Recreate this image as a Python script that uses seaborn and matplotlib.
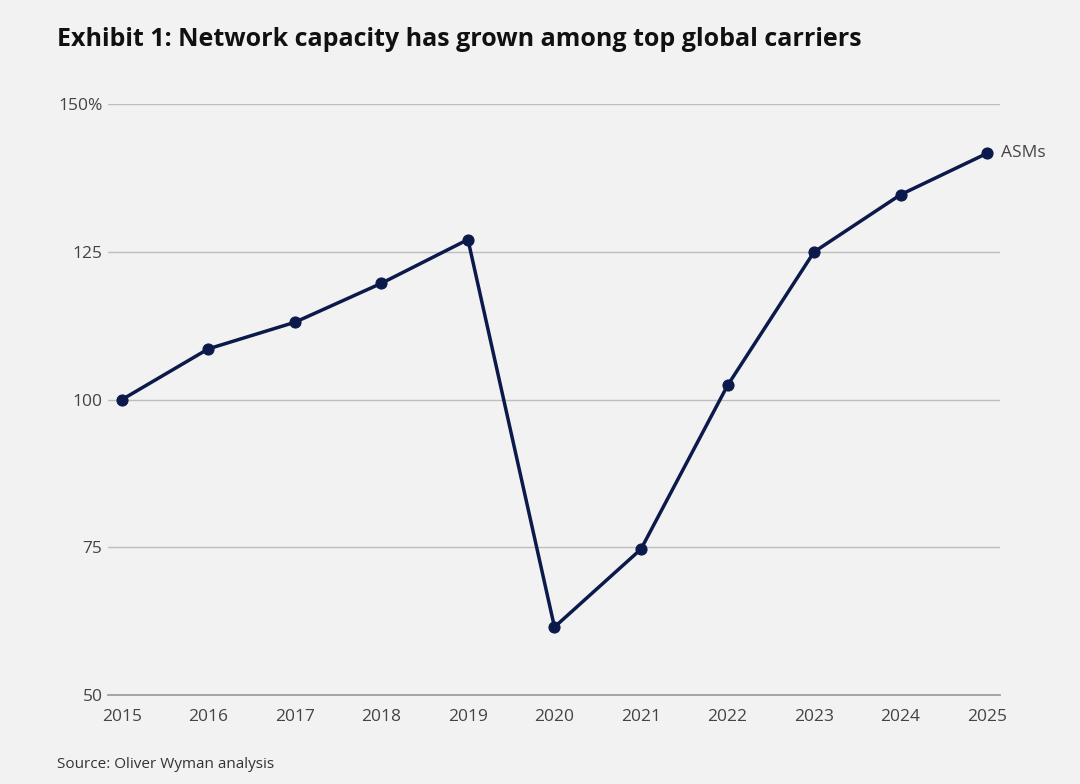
import seaborn as sns
import pandas as pd
import matplotlib.pyplot as plt

years = [2015, 2016, 2017, 2018, 2019, 2020, 2021, 2022, 2023, 2024, 2025]
asms = [100, 108.6, 113.1, 119.7, 127.1, 61.5, 74.7, 102.4, 125, 134.7, 141.7]
yticks = [50, 75, 100, 125, 150]
ylabels = ['50', '75', '100', '125', '150%']

df = pd.DataFrame({'year': years, 'asms': asms})

sns.set_theme(style='white')
plt.rcParams['font.family'] = ['Open Sans', 'DejaVu Sans']
bg = '#f2f2f2'
navy = '#0b1a4a'

fig = plt.figure(figsize=(10.8, 7.84), dpi=100, facecolor=bg)
ax = fig.add_axes([0.1, 0.1135, 0.826, 0.7535], facecolor=bg)

sns.lineplot(data=df, x='year', y='asms', color=navy, linewidth=2.5,
             marker='o', markersize=8, markeredgecolor=navy, ax=ax)

ax.set_xlim(2014.84, 2025.15)
ax.set_ylim(50, 150)
ax.set_yticks(yticks)
ax.set_yticklabels(ylabels)
ax.set_xticks(years)
ax.yaxis.grid(True, color='#bdbdbd', linewidth=1)
ax.set_axisbelow(True)
for s in ['top', 'right', 'left']:
    ax.spines[s].set_visible(False)
ax.spines['bottom'].set_color('#9a9a9a')
ax.tick_params(axis='both', length=0, labelsize=12.5, colors='#444444')
ax.tick_params(axis='y', pad=4)
ax.tick_params(axis='x', pad=10)
ax.set_xlabel('')
ax.set_ylabel('')

ax.annotate('ASMs', (years[-1], asms[-1]), xytext=(10, 0), textcoords='offset points',
            va='center', ha='left', fontsize=12.5, color='#444444')

fig.text(0.053, 0.949, 'Exhibit 1: Network capacity has grown among top global carriers',
         fontsize=18, fontweight='bold', color='#111111', va='center')
fig.text(0.053, 0.02, 'Source: Oliver Wyman analysis', fontsize=11, color='#333333')

fig.savefig('out.png', dpi=100, facecolor=bg)
